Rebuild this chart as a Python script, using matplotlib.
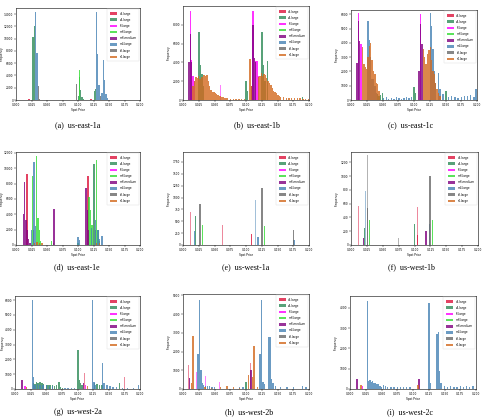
import numpy as np
import matplotlib.pyplot as plt

types = ['c3.large', 'c4.large', 'i3.large', 'm3.large', 'm3.medium', 'm4.large', 'r3.large', 'r4.large']
colors = ['#dc143c', '#2e8b57', '#ff00ff', '#33dd33', '#800080', '#4682b4', '#696969', '#d2691e']

# (spot price bins, frequency) per instance type
east1a = {
    'c3.large': ([0.021, 0.121], [120, 150]),
    'c4.large': ([0.0275, 0.0295, 0.1005, 0.1025, 0.1045, 0.1065, 0.1085, 0.1265, 0.1285],
                 [10200, 12100, 600, 3800, 1600, 500, 150, 1500, 1800]),
    'm3.large': ([0.1025], [4900]),
    'm4.large': ([0.0317, 0.0339, 0.1295, 0.1317, 0.1339, 0.1385, 0.1407, 0.1429, 0.1451, 0.1473],
                 [14400, 7600, 14400, 7500, 2400, 1200, 6500, 3200, 1000, 300]),
    'r3.large': ([0.0361, 0.0381, 0.0974, 0.1361], [2300, 200, 2600, 700]),
}
east1b = {
    'c4.large': ([0.0255, 0.0277, 0.0299, 0.0321, 0.1, 0.1022, 0.1256, 0.1278, 0.13, 0.1346, 0.19],
                 [7200, 3700, 2800, 1500, 2000, 1000, 7200, 3700, 2000, 4200, 300]),
    'i3.large': ([0.0116, 0.0138, 0.016, 0.0182, 0.111, 0.1154, 0.1176, 0.1198],
                 [9500, 4300, 2600, 2000, 9500, 4200, 4200, 2600]),
    'm3.medium': ([0.0094, 0.0116, 0.0138, 0.1088, 0.111, 0.1132, 0.1154],
                  [4000, 7000, 4000, 1500, 8000, 4500, 4000]),
    'r4.large': ([0.0160, 0.0182, 0.0204, 0.0226, 0.0248, 0.0270, 0.0292, 0.0314, 0.0336, 0.0358, 0.0380,
                  0.0402, 0.0424, 0.0446, 0.0468, 0.0490, 0.0512, 0.0534, 0.0556, 0.0578, 0.0600, 0.0622,
                  0.0644, 0.0666, 0.0688, 0.0710, 0.0754, 0.0798, 0.0842, 0.0886, 0.0930, 0.0974,
                  0.1066, 0.1088, 0.1198, 0.1220, 0.1242, 0.1264, 0.1286, 0.1308, 0.1330, 0.1352, 0.1374,
                  0.1396, 0.1418, 0.1440, 0.1462, 0.1484, 0.1506, 0.1528, 0.1550, 0.1594, 0.1638, 0.1682,
                  0.1726, 0.1770, 0.1814, 0.1858, 0.1902, 0.1946, 0.199],
                 [1500, 2000, 2500, 2300, 2600, 2200, 2500, 2400, 2700, 2600, 2700,
                  2000, 1500, 1100, 900, 800, 700, 600, 500, 450, 400, 350,
                  300, 250, 200, 180, 150, 120, 100, 100, 90, 100,
                  4400, 1500, 2500, 2600, 2900, 2600, 2800, 2700, 2300, 2000, 1800,
                  1600, 1300, 1000, 800, 700, 500, 400, 350, 300, 250, 200,
                  200, 200, 200, 180, 150, 100, 100]),
}
east1b_thin = {'i3.large': ([0.0595], [1600])}
east1c = {
    'c4.large': ([0.0424, 0.0446, 0.0468, 0.0504, 0.1003, 0.1025, 0.1507], [400, 300, 350, 500, 900, 500, 600]),
    'i3.large': ([0.0116, 0.0160, 0.1104], [6100, 3900, 6000]),
    'm3.medium': ([0.0094, 0.0116, 0.0138, 0.1082, 0.1104, 0.1126], [2600, 5500, 4100, 2000, 5300, 3900]),
    'm4.large': ([0.0270, 0.0292, 0.0314, 0.0336, 0.0358, 0.0380, 0.0402, 0.052, 0.056, 0.06, 0.064, 0.068,
                  0.072, 0.076, 0.08, 0.084, 0.088, 0.092, 0.096, 0.1258, 0.1280, 0.1302, 0.1324, 0.1346,
                  0.1390, 0.1412, 0.146, 0.155, 0.16, 0.165, 0.17, 0.175, 0.18, 0.185, 0.19, 0.195, 0.1985],
                 [5500, 4200, 3000, 1500, 1500, 1000, 500, 150, 200, 100, 150, 100,
                  200, 150, 100, 150, 200, 150, 200, 6100, 5200, 3600, 2000, 1200,
                  1900, 800, 400, 200, 300, 200, 150, 200, 250, 300, 350, 200, 800]),
    'r4.large': ([0.0182, 0.0204, 0.0226, 0.0248, 0.0270, 0.0292, 0.0314, 0.0336, 0.0358, 0.0380, 0.0402,
                  0.0424, 0.0446, 0.1148, 0.1170, 0.1192, 0.1214, 0.1236, 0.1258, 0.1280, 0.1302, 0.1324,
                  0.1346, 0.1368, 0.1390, 0.1412],
                 [3700, 2500, 2300, 2200, 3000, 3800, 4000, 2800, 2000, 1800, 1200,
                  1100, 600, 3600, 3000, 2500, 3200, 3500, 3700, 2800, 2000, 1800,
                  1200, 800, 500, 300]),
}
east1c_thin = {'i3.large': ([0.059], [1400])}
east1e = {
    'c3.large': ([0.0178, 0.1164], [9300, 9000]),
    'c4.large': ([0.0282, 0.1259, 0.1281], [2000, 10500, 2000]),
    'm3.large': ([0.0270, 0.0333, 0.0355, 0.0377, 0.0399, 0.0570, 0.0600, 0.1000, 0.1180, 0.1202, 0.1224,
                  0.1300, 0.1322, 0.1344],
                 [9000, 11600, 3500, 2000, 500, 500, 300, 200, 6300, 4500, 2600, 11000, 2000, 500]),
    'm3.medium': ([0.0116, 0.0138, 0.0160, 0.0182, 0.0204, 0.0226, 0.0614, 0.1127, 0.1149, 0.1171],
                  [4000, 8200, 3300, 2000, 800, 300, 4700, 7400, 4500, 2000]),
    'm4.large': ([0.0254, 0.0291, 0.0313, 0.1000, 0.1022, 0.1222, 0.1286, 0.1323, 0.1345, 0.1390],
                 [2000, 10800, 2500, 1000, 600, 2200, 3200, 2000, 800, 1200]),
    'r4.large': ([0.030, 0.034, 0.038, 0.042, 0.130, 0.135], [300, 400, 300, 200, 300, 200]),
}
west1a = {
    'c3.large': ([0.109], [230]),
    'c4.large': ([0.020], [620]),
    'm3.large': ([0.0305, 0.129], [430, 400]),
    'm4.large': ([0.0185, 0.119, 0.176], [300, 170, 100]),
    'r3.large': ([0.027, 0.1257, 0.175], [870, 1200, 320]),
}
west1a_thin = {
    'c3.large': ([0.0117, 0.0626, 0.111, 0.1195], [700, 430, 730, 600]),
    'm4.large': ([0.0205, 0.115, 0.1395], [500, 950, 580]),
    'r3.large': ([0.027, 0.0745, 0.0955, 0.1257, 0.175], [1880, 100, 280, 1880, 1200]),
}
west1b = {
    'c3.large': ([0.105], [150]),
    'c4.large': ([0.021, 0.1], [250, 300]),
    'm3.large': ([0.0289, 0.1284], [360, 370]),
    'm3.medium': ([0.020, 0.118], [100, 200]),
    'm4.large': ([0.1235], [300]),
    'r3.large': ([0.0263, 0.1242], [540, 1000]),
}
west1b_thin = {
    'c3.large': ([0.0121, 0.020, 0.0626, 0.1047], [560, 950, 250, 550]),
    'i3.large': ([0.11, 0.118], [580, 640]),
    'm4.large': ([0.0226, 0.124, 0.14], [780, 1160, 590]),
    'r3.large': ([0.026, 0.0747, 0.1245, 0.1747], [1300, 100, 1300, 500]),
}
west2a = {
    'c4.large': ([0.030, 0.032, 0.034, 0.037, 0.040, 0.043, 0.046, 0.050, 0.053, 0.056, 0.060, 0.063, 0.066,
                  0.0704, 0.073, 0.076, 0.1005, 0.1027, 0.1049, 0.1071, 0.127, 0.131, 0.135, 0.139, 0.167],
                 [400, 350, 450, 400, 500, 400, 350, 300, 250, 300, 250, 200, 250,
                  450, 150, 100, 2600, 600, 400, 250, 400, 350, 300, 250, 400]),
    'i3.large': ([0.016, 0.113], [200, 300]),
    'm3.medium': ([0.0111, 0.110], [600, 400]),
    'm4.large': ([0.0275, 0.0297, 0.032, 0.036, 0.04, 0.045, 0.05, 0.055, 0.06, 0.08, 0.085, 0.09, 0.095,
                  0.1243, 0.1265, 0.1287, 0.1400, 0.1422, 0.147, 0.152, 0.157, 0.162, 0.172, 0.18, 0.19, 0.198],
                 [6000, 800, 300, 350, 300, 300, 250, 200, 200, 50, 50, 50, 60,
                  6000, 500, 300, 1750, 400, 250, 200, 150, 150, 100, 80, 80, 300]),
    'r4.large': ([0.0185, 0.116], [150, 200]),
}
west2a_thin = {'c3.large': ([0.111, 0.175], [1100, 800])}
west2b = {
    'c4.large': ([0.0997], [400]),
    'm3.medium': ([0.0106, 0.108], [600, 1000]),
    'm4.large': ([0.0239, 0.0261, 0.0283, 0.0305, 0.033, 0.036, 0.039, 0.042, 0.046, 0.05, 0.09, 0.095,
                  0.1225, 0.1247, 0.1269, 0.1291, 0.1363, 0.1385, 0.1407, 0.1429, 0.147, 0.155, 0.165,
                  0.175, 0.19, 0.195],
                 [1850, 4750, 1000, 300, 200, 150, 180, 150, 120, 100, 100, 130,
                  1850, 4750, 350, 250, 2750, 2800, 550, 300, 150, 120, 100,
                  100, 150, 120]),
    'r4.large': ([0.0137, 0.0159, 0.035, 0.045, 0.06, 0.07, 0.08, 0.09, 0.104, 0.110, 0.113, 0.118],
                 [300, 2850, 100, 80, 100, 150, 100, 80, 750, 650, 2300, 100]),
}
west2b_thin = {
    'c3.large': ([0.009, 0.107], [1300, 1400]),
    'i3.large': ([0.0212, 0.0355, 0.058, 0.175], [900, 700, 350, 500]),
}
west2c = {
    'i3.large': ([0.0196], [150]),
    'm3.medium': ([0.0111, 0.1098], [500, 500]),
    'm4.large': ([0.0276, 0.0298, 0.0318, 0.034, 0.0362, 0.0384, 0.0406, 0.0428, 0.045, 0.0477, 0.050,
                  0.053, 0.056, 0.06, 0.065, 0.07, 0.075, 0.08, 0.085, 0.09, 0.095, 0.1257, 0.1279,
                  0.1380, 0.1402, 0.1424, 0.1446, 0.15, 0.155, 0.16, 0.165, 0.17, 0.175, 0.18, 0.185,
                  0.19, 0.195],
                 [4350, 400, 450, 350, 400, 300, 300, 250, 250, 150, 100,
                  200, 150, 100, 100, 100, 80, 100, 80, 100, 80, 4250, 300,
                  2700, 2800, 900, 300, 150, 100, 150, 100, 100, 150, 100, 150,
                  100, 150]),
    'r4.large': ([0.0175, 0.108], [200, 200]),
}
west2c_thin = {'c3.large': ([0.0111, 0.1098], [800, 600])}

captions = ['(a)  us-east-1a', '(b)  us-east-1b', '(c)  us-east-1c',
            '(d)  us-east-1e', '(e)  us-west-1a', '(f)  us-west-1b',
            '(g)  us-west-2a', '(h)  us-west-2b', '(i)  us-west-2c']
panel_data = [(east1a, None), (east1b, east1b_thin), (east1c, east1c_thin),
              (east1e, None), (west1a, west1a_thin), (west1b, west1b_thin),
              (west2a, west2a_thin), (west2b, west2b_thin), (west2c, west2c_thin)]
ytops = [15000, 10000, 6300, 12100, 1960, 1350, 6270, 5070, 4590]
ysteps = [2000, 2000, 1000, 2000, 250, 200, 1000, 1000, 1000]

# layout in pixels: left, top, right, bottom of each axes, caption centre
W, H = 486, 418
boxes = [(16, 8, 140, 100), (183, 6, 309, 100), (351, 10, 477, 100),
         (16, 152, 140, 245), (183, 152, 309, 245), (351, 152, 478, 245),
         (15, 296, 140, 389), (183, 294, 309, 389), (350, 296, 476, 389)]
cap_pos = [(78, 125), (257, 125), (411, 125), (77, 267), (246, 267), (411, 267),
           (78, 412), (249, 412), (410, 412)]

fig = plt.figure(figsize=(W / 100, H / 100), dpi=100)

for k in range(9):
    l, t, r, b = boxes[k]
    ax = fig.add_axes([l / W, 1 - b / H, (r - l) / W, (b - t) / H])
    bars, thin = panel_data[k]
    for name, col in zip(types, colors):
        if name in bars:
            x, y = bars[name]
            ax.bar(x, y, width=0.0022, color=col, alpha=0.8, linewidth=0)
        if thin is not None and name in thin:
            x, y = thin[name]
            ax.bar(x, y, width=0.0006, color=col, alpha=0.5, linewidth=0)
    ax.set_xlim(0, 0.2)
    ax.set_ylim(0, ytops[k])
    ax.set_xticks(np.arange(0, 0.2001, 0.025))
    ax.set_xticklabels(['%.3f' % v for v in np.arange(0, 0.2001, 0.025)])
    ax.set_yticks(np.arange(0, ytops[k], ysteps[k]))
    ax.tick_params(labelsize=2.1, length=1.2, width=0.3, pad=0.8)
    for s in ax.spines.values():
        s.set_linewidth(0.4)
    ax.set_xlabel('Spot Price', fontsize=2.1, labelpad=1.2)
    # left column has only a sliver of room for the y label
    ax.set_ylabel('Frequency', fontsize=2.1, labelpad=0.2 if l < 20 else 1.5)
    handles = [plt.Rectangle((0, 0), 1, 1, color=c, alpha=0.8, linewidth=0) for c in colors]
    leg = ax.legend(handles, types, loc='upper right', fontsize=2.1, labelspacing=0.75,
                    handlelength=2.6, handleheight=1.0, handletextpad=0.7, borderpad=0.9,
                    borderaxespad=0.3, frameon=True, fancybox=False, edgecolor='#dddddd',
                    framealpha=1)
    leg.get_frame().set_linewidth(0.3)
    cx, cy = cap_pos[k]
    fig.text(cx / W, 1 - cy / H, captions[k], ha='center', va='center',
             fontsize=5.8, family='Liberation Serif')

fig.savefig('out.png', dpi=100)
